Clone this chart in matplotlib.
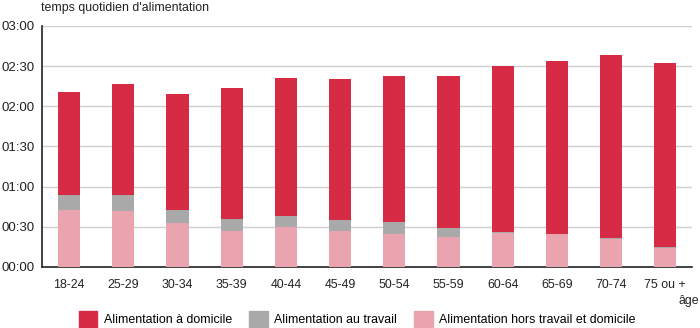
import matplotlib.pyplot as plt
from matplotlib.patches import Patch
import numpy as np

# minutes per day
ages = ["18-24", "25-29", "30-34", "35-39", "40-44", "45-49",
        "50-54", "55-59", "60-64", "65-69", "70-74", "75 ou +"]
hors = [42.5, 42, 32.5, 27, 29.5, 27, 24.5, 22.5, 25.5, 24.5, 21, 14.5]
travail = [11, 12, 10, 9, 8.5, 8, 9, 6.5, 0.5, 0.3, 0.7, 0.2]
domicile = [77.5, 83, 86.5, 97.5, 103, 105, 109, 113.5, 124, 128.7, 136.3, 137.8]

yticks = [0, 30, 60, 90, 120, 150, 180]
ylabels = ["00:00", "00:30", "01:00", "01:30", "02:00", "02:30", "03:00"]

c_dom = "#d72a44"
c_trav = "#a9a9a9"
c_hors = "#e9a4af"

plt.rcParams["font.family"] = ["Liberation Sans Narrow", "Liberation Sans", "DejaVu Sans"]
plt.rcParams["font.size"] = 8.9

fig = plt.figure(figsize=(7, 3.28), dpi=100)
ax = fig.add_axes([0.06, 0.186, 0.929, 0.735])

x = np.arange(len(ages))
w = 0.41
ax.bar(x, hors, w, color=c_hors, zorder=3)
ax.bar(x, travail, w, bottom=hors, color=c_trav, zorder=3)
bot = np.array(hors) + np.array(travail)
ax.bar(x, domicile, w, bottom=bot, color=c_dom, zorder=3)

ax.set_xlim(-0.5, len(ages) - 0.5)
ax.set_ylim(0, 180)
ax.set_yticks(yticks)
ax.set_yticklabels(ylabels, color="#222222", fontsize=9.5)
ax.set_xticks(x)
ax.set_xticklabels(ages, color="#222222")
ax.tick_params(length=0, pad=5)
ax.tick_params(axis="x", pad=9)
ax.yaxis.grid(True, color="#cfcfcf", linewidth=1, zorder=0)
for s in ["top", "right"]:
    ax.spines[s].set_visible(False)
for s in ["left", "bottom"]:
    ax.spines[s].set_color("#222222")
    ax.spines[s].set_linewidth(1.2)

fig.text(0.999, 1 - 301 / 328, "âge", ha="right", va="center", color="#222222")
fig.text(0.058, 1 - 8 / 328, "temps quotidien d'alimentation", ha="left", va="center",
         color="#222222")

handles = [Patch(color=c_dom, label="Alimentation à domicile"),
           Patch(color=c_trav, label="Alimentation au travail"),
           Patch(color=c_hors, label="Alimentation hors travail et domicile")]
fig.legend(handles=handles, loc="center", bbox_to_anchor=(0.51, 1 - 319 / 328), ncol=3,
           frameon=False, handlelength=1.5, handleheight=1.5, columnspacing=1.4,
           handletextpad=0.5)

fig.savefig("out.png", dpi=100)
